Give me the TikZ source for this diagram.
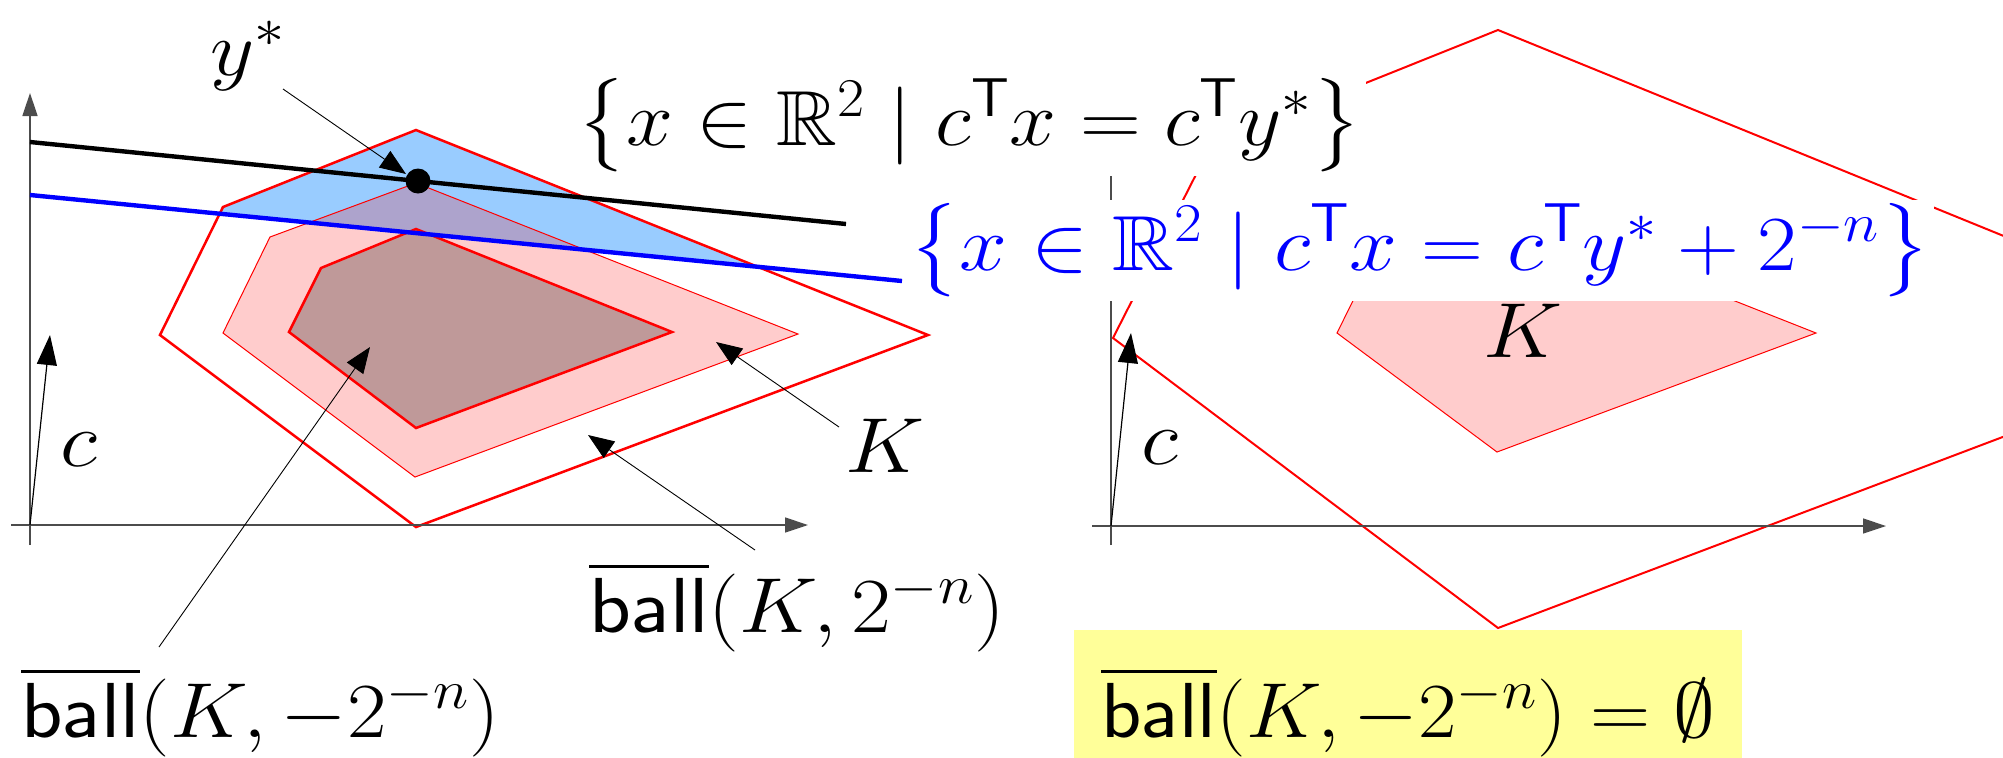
\RequirePackage{fix-cm}
\documentclass[tikz,border=0pt]{standalone}
\usepackage{amsmath,amssymb,graphicx}
\usetikzlibrary{arrows.meta}
\definecolor{bluefill}{RGB}{153,204,255}
\definecolor{yellowbox}{RGB}{255,255,153}
\newcommand\ballbar{\overline{\mathsf{ball}}}
\newcommand\widetxt[2]{\scalebox{#1}[1]{#2}}
\tikzset{
  lab/.style={font=\fontsize{39}{46}\selectfont, inner sep=0pt},
  whitelab/.style={lab, fill=white, inner sep=2pt},
  redthick/.style={draw=red, line width=1.25pt},
  redthin/.style={draw=red, line width=0.5pt},
  axisline/.style={draw=black!70, line width=0.75pt, -{Triangle[length=11.5pt,width=7.5pt]}},
  vecline/.style={draw=black, line width=0.6pt, -{Triangle[length=15pt,width=10pt]}},
  pointer/.style={draw=black, line width=0.45pt, -{Triangle[length=13pt,width=10pt]}},
  levelline/.style={line width=2.2pt}
}
\begin{document}
\begin{tikzpicture}[x=0.5pt,y=-0.5pt]
\useasboundingbox (0,0) rectangle (2003,757);
\clip (0,0) rectangle (2003,757);

% ---------- left panel ----------
\begin{scope}
  \clip (416,130) -- (928,335) -- (416,527) -- (160,335) -- (223,207) -- cycle;
  \fill[bluefill] (0,0) -- (1000,0) -- (1000,290.6) -- (0,192) -- cycle;
\end{scope}
\draw[redthick] (416,130) -- (928,335) -- (416,527) -- (160,335) -- (223,207) -- cycle;
\draw[redthin, fill=red, fill opacity=0.2] (416,183) -- (798,334) -- (415,477) -- (223,333) -- (270,237) -- cycle;
\draw[redthick, fill=black, fill opacity=0.25] (416,229) -- (672,332) -- (416,428) -- (289,332) -- (321,268) -- cycle;

\coordinate (LxS) at (11,525);  \coordinate (LxE) at (808,525);
\coordinate (LyS) at (30,545);  \coordinate (LyE) at (30,93);
\coordinate (LO) at (30,525);   \coordinate (Lc) at (50,335);
\draw[axisline] (LxS) -- (LxE);
\draw[axisline] (LyS) -- (LyE);
\draw[vecline] (LO) -- (Lc);

\coordinate (bS) at (30,142); \coordinate (bE) at (846,224);
\coordinate (uS) at (30,195); \coordinate (uE) at (902,281);
\draw[levelline, black] (bS) -- (bE);
\draw[levelline, blue] (uS) -- (uE);
\node[circle, fill=black, inner sep=0pt, minimum size=12.5pt] (ydot) at (418,181) {};

% ---------- right panel ----------
\draw[redthin, fill=red, fill opacity=0.2] (1497,207) -- (1816,333) -- (1497,452) -- (1337,333) -- (1377,252) -- cycle;
\draw[red, line width=1pt] (1498,30) -- (2259,340) -- (1498,628) -- (1113,338) -- (1211,145) -- cycle;
\coordinate (RxS) at (1092,526); \coordinate (RxE) at (1886,526);
\coordinate (RyS) at (1111,545); \coordinate (RyE) at (1111,93);
\coordinate (RO) at (1111,526);  \coordinate (Rc) at (1131,333);
\draw[axisline] (RxS) -- (RxE);
\draw[axisline] (RyS) -- (RyE);
\draw[vecline] (RO) -- (Rc);

% ---------- labels ----------
\node[lab, anchor=base west] (ystar) at (210,75) {\widetxt{1.1}{$y^*$}};
\node[lab, anchor=base west] (Klab) at (845,472) {\widetxt{1.12}{$K$}};
\node[lab, anchor=base west] (KR) at (1483,357) {\widetxt{1.12}{$K$}};
\node[lab, anchor=base west] (cL) at (60,466) {\widetxt{1.12}{$c$}};
\node[lab, anchor=base west] (cR) at (1141,464) {\widetxt{1.12}{$c$}};
\node[lab, anchor=base west] (ballp) at (589,632) {\widetxt{1.11}{$\ballbar(K,2^{-n})$}};
\node[lab, anchor=base west] (ballm) at (21,737) {\widetxt{1.10}{$\ballbar(K,-2^{-n})$}};
\node[lab, fill=yellowbox, inner xsep=13.5pt, inner ysep=18.5pt, anchor=base west] (empty) at (1074,737) {\widetxt{1.07}{$\ballbar(K,-2^{-n})=\emptyset$}};

% ---------- pointers ----------
\coordinate (pyS) at (283,89);  \coordinate (pyT) at (406,174);
\coordinate (pkS) at (839,427); \coordinate (pkT) at (716,342);
\coordinate (ppS) at (755,550); \coordinate (ppT) at (588,435);
\coordinate (pmS) at (159,647); \coordinate (pmT) at (370,347);
\draw[pointer] (pyS) -- (pyT);
\draw[pointer] (pkS) -- (pkT);
\draw[pointer] (ppS) -- (ppT);
\draw[pointer] (pmS) -- (pmT);

\node[whitelab, anchor=base west] (hyp) at (573,145) {\widetxt{1.08}{$\big\{x\in\mathbb{R}^2 \mid c^{\mathsf{T}}x = c^{\mathsf{T}}y^*\big\}$}};
\node[whitelab, text=blue, anchor=base west] (hypn) at (905,270) {\widetxt{1.10}{$\big\{x\in\mathbb{R}^2 \mid c^{\mathsf{T}}x = c^{\mathsf{T}}y^* + 2^{-n}\big\}$}};
\end{tikzpicture}
\end{document}
